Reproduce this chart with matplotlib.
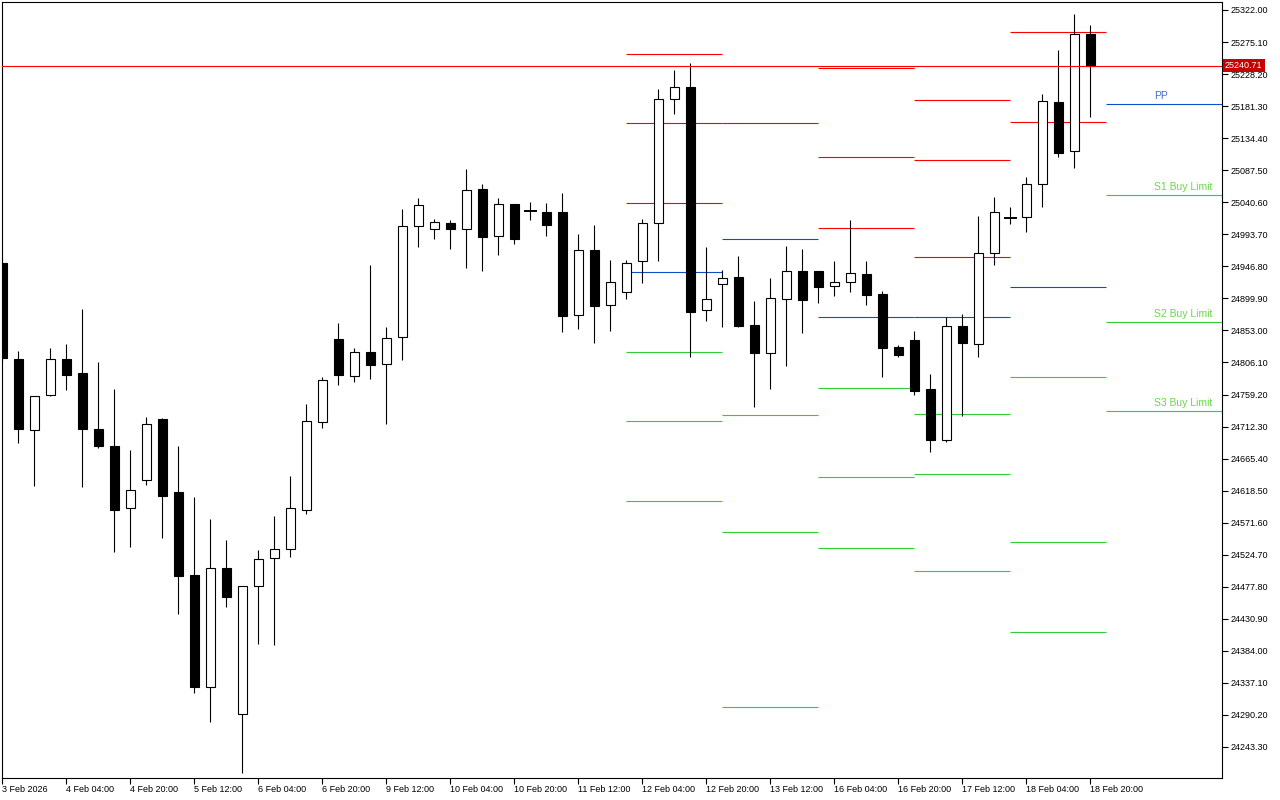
import numpy as np
import matplotlib
matplotlib.use("Agg")
import matplotlib.pyplot as plt
from matplotlib.patches import Rectangle

plt.rcParams['font.family'] = ['Liberation Sans', 'DejaVu Sans']

# 4h candles, 3 Feb 2026 .. 18 Feb 2026
opens = [24951.7, 24810.8, 24706.8, 24758.0, 24810.7, 24790.2, 24708.3, 24683.4, 24592.6, 24633.6,
         24723.4, 24616.1, 24495.0, 24330.7, 24504.8, 24291.6, 24478.5, 24519.9, 24533.1, 24590.2,
         24718.5, 24840.0, 24785.8, 24821.0, 24803.4, 24842.9, 25005.4, 25001.0, 25009.8, 25001.0,
         25059.5, 24990.8, 25037.6, 25028.2, 25025.9, 25025.9, 24875.1, 24970.3, 24889.8, 24908.8,
         24954.2, 25009.8, 25191.3, 25208.8, 24882.4, 24920.5, 24930.7, 24860.5, 24820.4, 24898.5,
         24939.5, 24939.5, 24917.6, 24923.4, 24935.1, 24906.3, 24828.3, 24839.0, 24767.3, 24693.0,
         24859.5, 24832.7, 24965.9, 25018.0, 25018.6, 25066.9, 25186.9, 25115.2, 25286.4]
highs = [24959.0, 24822.9, 24757.5, 24827.3, 24833.1, 24883.9, 24806.3, 24766.8, 24678.0, 24726.7,
         24724.8, 24683.8, 24609.2, 24577.0, 24546.3, 24479.0, 24531.6, 24581.4, 24640.0, 24745.3,
         24784.8, 24863.4, 24827.3, 24948.3, 24858.0, 25030.7, 25046.8, 25016.1, 25014.2, 25089.3,
         25067.3, 25046.8, 25038.5, 25041.0, 25039.1, 25053.7, 24994.1, 25007.3, 24956.1, 24956.1,
         25016.1, 25206.3, 25234.1, 25244.4, 24975.1, 24941.4, 24961.9, 24896.1, 24929.7, 24976.6,
         24972.2, 24940.0, 24954.6, 25014.6, 24955.3, 24910.7, 24831.7, 24852.1, 24789.2, 24872.2,
         24877.0, 25020.5, 25048.3, 25033.6, 25077.5, 25199.0, 25263.4, 25316.1, 25300.0]
lows = [24806.8, 24687.8, 24625.7, 24757.0, 24765.8, 24624.3, 24681.3, 24528.7, 24536.5, 24626.8,
        24549.6, 24438.4, 24321.9, 24280.3, 24448.6, 24204.8, 24393.6, 24392.6, 24521.4, 24584.3,
        24709.7, 24773.5, 24777.9, 24782.3, 24716.5, 24810.1, 24975.5, 24987.2, 24972.6, 24944.8,
        24940.4, 24963.8, 24979.9, 25015.0, 24991.6, 24851.1, 24855.5, 24835.0, 24852.6, 24899.4,
        24922.8, 24955.0, 25170.2, 24814.5, 24867.2, 24858.4, 24857.3, 24741.4, 24767.7, 24801.4,
        24849.7, 24893.6, 24903.8, 24909.7, 24890.9, 24784.4, 24813.6, 24758.0, 24674.6, 24690.1,
        24727.3, 24814.5, 24949.2, 25009.2, 24997.5, 25034.1, 25107.3, 25091.2, 25165.8]
closes = [24812.6, 24708.7, 24757.0, 24810.7, 24788.2, 24709.2, 24684.3, 24590.6, 24619.4, 24715.6,
          24611.1, 24494.0, 24330.7, 24504.8, 24463.3, 24478.5, 24518.0, 24533.1, 24593.1, 24720.0,
          24780.0, 24788.2, 24821.0, 24802.8, 24841.5, 25005.4, 25036.1, 25011.2, 25001.0, 25058.1,
          24990.2, 25037.6, 24987.2, 25028.0, 25007.7, 24874.5, 24970.3, 24889.2, 24923.4, 24951.2,
          25009.8, 25191.3, 25208.8, 24880.4, 24898.5, 24929.3, 24859.9, 24820.4, 24900.0, 24939.5,
          24898.0, 24917.0, 24923.4, 24936.6, 24905.3, 24827.7, 24817.5, 24764.8, 24693.0, 24859.0,
          24833.9, 24965.9, 25025.9, 25018.0, 25066.9, 25188.3, 25113.1, 25286.4, 25240.71]

time_labels = ["3 Feb 2026", "4 Feb 04:00", "4 Feb 20:00", "5 Feb 12:00", "6 Feb 04:00",
               "6 Feb 20:00", "9 Feb 12:00", "10 Feb 04:00", "10 Feb 20:00", "11 Feb 12:00",
               "12 Feb 04:00", "12 Feb 20:00", "13 Feb 12:00", "16 Feb 04:00", "16 Feb 20:00",
               "17 Feb 12:00", "18 Feb 04:00", "18 Feb 20:00"]

price_ticks = [25322.00, 25275.10, 25228.20, 25181.30, 25134.40, 25087.50, 25040.60, 24993.70,
               24946.80, 24899.90, 24853.00, 24806.10, 24759.20, 24712.30, 24665.40, 24618.50,
               24571.60, 24524.70, 24477.80, 24430.90, 24384.00, 24337.10, 24290.20, 24243.30]

last_price = 25240.71

# daily pivot levels (one per day, last = current day)
nan = np.nan
R3 = [25257.6, nan, 25237.1, 25190.2, nan, nan]
R2 = [25156.6, nan, 25106.8, 25102.4, 25289.8, nan]
R1 = [25039.5, 25156.6, 25002.9, 24960.5, 25158.0, nan]
PP = [24938.5, 24986.8, 24872.6, 24872.6, 24916.5, 25184.4]
S1 = [24821.4, 24729.2, 24768.7, 24730.7, 24784.8, 25051.2]
S2 = [24720.4, 24558.0, 24638.5, 24642.9, 24543.3, 24865.3]
S3 = [24603.3, 24301.8, 24534.5, 24500.9, 24411.6, 24735.1]

RED = '#ff0000'
BLUE = '#0a4fd0'
GREEN = '#32cd32'

fig = plt.figure(figsize=(12.8, 8), dpi=100)
ax = fig.add_axes([2/1280, 22/800, 1220/1280, 776/800])
ax.set_xlim(-0.03, 76.22)
ax.set_ylim(24197.9, 25333.7)

n = len(opens)
for i in range(n):
    o, h, l, c = opens[i], highs[i], lows[i], closes[i]
    ax.plot([i, i], [l, h], color='black', lw=0.8, solid_capstyle='butt', zorder=3)
    if abs(c - o) < 0.5:
        ax.plot([i - 0.32, i + 0.32], [o, o], color='black', lw=1.4, zorder=4)
    else:
        fc = 'white' if c > o else 'black'
        ax.add_patch(Rectangle((i - 0.31, min(o, c)), 0.62, abs(c - o),
                               facecolor=fc, edgecolor='black', lw=0.8, zorder=4))

# pivot segments, 6 candles per day
ndays = len(PP)
right = ax.get_xlim()[1]
for d in range(ndays):
    x0 = n - 6 * (ndays - 1 - d)
    x1 = x0 + 6 - 0.06 if d < ndays - 1 else right
    for lev, col in [(R3, RED), (R2, RED), (R1, RED), (PP, BLUE), (S1, GREEN), (S2, GREEN), (S3, GREEN)]:
        if not np.isnan(lev[d]):
            ax.hlines(lev[d], x0, x1, color=col, lw=0.8, zorder=2)

# labels of current day
lx = n + 3
ax.annotate("PP", (lx, PP[-1]), xytext=(0, 2), textcoords='offset points',
            color='#3b6fd6', fontsize=7.5, ha='left', va='bottom')
for lev, name in [(S1, "S1 Buy Limit"), (S2, "S2 Buy Limit"), (S3, "S3 Buy Limit")]:
    ax.annotate(name, (lx, lev[-1]), xytext=(0, 2), textcoords='offset points',
                color='#66d84a', fontsize=7.5, ha='left', va='bottom')

# current price line + tag
ax.axhline(last_price, color=RED, lw=0.8, zorder=5)
ax.annotate("%.2f" % last_price, xy=(1, last_price), xycoords=('axes fraction', 'data'),
            xytext=(2, 0), textcoords='offset points', ha='left', va='center',
            color='white', fontsize=6.5, annotation_clip=False, zorder=10,
            bbox=dict(boxstyle='square,pad=0.25', fc='#c80000', ec='none'))

ax.yaxis.tick_right()
ax.set_yticks(price_ticks)
ax.set_yticklabels(["%.2f" % p for p in price_ticks])
ax.tick_params(axis='y', direction='out', length=4, width=0.8, pad=2, labelsize=6.5)

ax.set_xticks(np.arange(len(time_labels)) * 4)
ax.set_xticklabels(time_labels, ha='left')
ax.tick_params(axis='x', direction='out', length=4, width=0.8, pad=1, labelsize=6.5)

for s in ax.spines.values():
    s.set_linewidth(0.8)
    s.set_color('black')

fig.savefig("out.png", dpi=100, facecolor='white')
